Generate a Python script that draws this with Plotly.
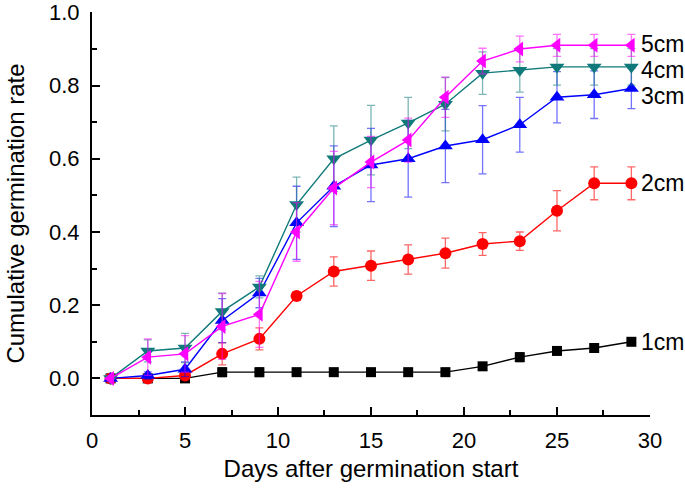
import plotly.graph_objects as go

days = [1, 3, 5, 7, 9, 11, 13, 15, 17, 19, 21, 23, 25, 27, 29]

cm1 = [0, 0, 0, 0.017, 0.017, 0.017, 0.017, 0.017, 0.017, 0.017, 0.033, 0.058, 0.075, 0.083, 0.1]
cm1_err = [0, 0, 0, 0.012, 0.012, 0.01, 0.01, 0.01, 0.01, 0.01, 0.008, 0.012, 0.006, 0.006, 0.008]

cm2 = [0, 0, 0.008, 0.067, 0.108, 0.225, 0.292, 0.308, 0.325, 0.342, 0.367, 0.375, 0.458, 0.533, 0.533]
cm2_err = [0, 0, 0.008, 0.03, 0.03, 0.012, 0.04, 0.04, 0.04, 0.041, 0.031, 0.025, 0.055, 0.045, 0.045]

cm3 = [0, 0.008, 0.025, 0.158, 0.233, 0.425, 0.525, 0.583, 0.6, 0.635, 0.652, 0.693, 0.768, 0.775, 0.792]
cm3_err = [0, 0.01, 0.02, 0.06, 0.04, 0.1, 0.11, 0.1, 0.105, 0.1, 0.093, 0.075, 0.07, 0.065, 0.055]

cm4 = [0, 0.075, 0.083, 0.183, 0.25, 0.475, 0.6, 0.651, 0.698, 0.749, 0.834, 0.842, 0.851, 0.851, 0.851]
cm4_err = [0, 0.03, 0.04, 0.05, 0.03, 0.075, 0.09, 0.095, 0.07, 0.073, 0.058, 0.06, 0.05, 0.05, 0.05]

cm5 = [0, 0.058, 0.067, 0.142, 0.175, 0.4, 0.52, 0.591, 0.651, 0.768, 0.867, 0.9, 0.91, 0.91, 0.91]
cm5_err = [0, 0.05, 0.05, 0.09, 0.09, 0.08, 0.1, 0.07, 0.06, 0.055, 0.035, 0.035, 0.03, 0.03, 0.03]

labels = ["1cm", "2cm", "3cm", "4cm", "5cm"]
label_y = [0.1, 0.535, 0.771, 0.843, 0.913]

y_ticks = [0.0, 0.2, 0.4, 0.6, 0.8, 1.0]
y_tick_text = ["0.0", "0.2", "0.4", "0.6", "0.8", "1.0"]
x_ticks = [0, 5, 10, 15, 20, 25, 30]

series = [
    (cm1, cm1_err, "#000000", "rgba(0,0,0,0.7)", "square", 10),
    (cm2, cm2_err, "#FF0000", "rgba(255,0,0,0.6)", "circle", 12),
    (cm3, cm3_err, "#0000FF", "rgba(0,0,255,0.55)", "triangle-up", 13),
    (cm4, cm4_err, "#107A7A", "rgba(16,122,122,0.55)", "triangle-down", 13),
    (cm5, cm5_err, "#FF00FF", "rgba(255,0,255,0.55)", "triangle-left", 13),
]

fig = go.Figure()
for (vals, errs, col, ecol, sym, sz), name in zip(series, labels):
    fig.add_trace(go.Scatter(
        x=days, y=vals, name=name, mode="lines+markers",
        line=dict(color=col, width=1.4),
        marker=dict(symbol=sym, size=sz, color=col),
        error_y=dict(type="data", array=errs, visible=True, color=ecol, thickness=1.3, width=4),
        cliponaxis=False,
    ))

for name, yv in zip(labels, label_y):
    fig.add_annotation(x=29, y=yv, text=name, showarrow=False, xanchor="left",
                       xshift=8, font=dict(size=23, color="black"))

axis_common = dict(
    showgrid=False, zeroline=False, showline=True, linecolor="black", linewidth=2,
    ticks="inside", ticklen=8, tickwidth=2, tickcolor="black",
    tickfont=dict(size=22, color="black"), automargin=False,
)

fig.update_xaxes(range=[0, 30.001], tickmode="array", tickvals=x_ticks, ticklabelstandoff=5,
                 minor=dict(ticks="inside", ticklen=5, tickwidth=1.5, dtick=2.5, tick0=0, tickcolor="black"),
                 title=dict(text="Days after germination start", font=dict(size=24, color="black"), standoff=8),
                 **axis_common)
fig.update_yaxes(range=[-0.1, 1.001], tickmode="array", tickvals=y_ticks, ticktext=y_tick_text,
                 ticklabelstandoff=6,
                 minor=dict(ticks="inside", ticklen=5, tickwidth=1.5, dtick=0.1, tick0=0, tickcolor="black"),
                 title=dict(text="Cumulative germination rate", font=dict(size=24, color="black"), standoff=18),
                 **axis_common)

fig.update_layout(
    width=685, height=492,
    margin=dict(l=92, r=35, t=12, b=77),
    plot_bgcolor="white", paper_bgcolor="white",
    showlegend=False,
    font=dict(family="Liberation Sans, Arial, sans-serif", color="black"),
)

fig.write_html("out.html", config={"displayModeBar": False},
               post_script="document.body.style.margin='0';")
